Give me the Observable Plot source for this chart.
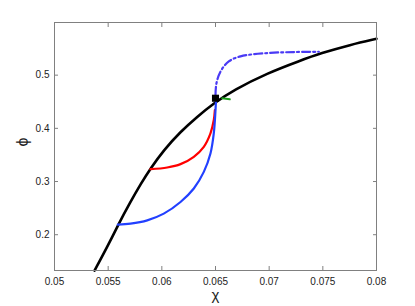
<!DOCTYPE html>
<html>
<head>
<meta charset="utf-8">
<script src="https://cdn.jsdelivr.net/npm/d3@7"></script>
<script src="https://cdn.jsdelivr.net/npm/@observablehq/plot@0.6"></script>
<style>
  html, body { margin: 0; padding: 0; background: #fff; }
  #chart svg { display: block; }
</style>
</head>
<body>
<div id="chart"></div>
<script>
// Binodal (black) curve
const binodalX = [0.05373, 0.05491, 0.05590, 0.05708, 0.05805, 0.05894, 0.06018, 0.06174, 0.06330, 0.06484, 0.06671, 0.06982, 0.07292, 0.07478, 0.07758, 0.08];
const binodalY = [0.1326, 0.1766, 0.2175, 0.2620, 0.2960, 0.3245, 0.3591, 0.3936, 0.4219, 0.4472, 0.4723, 0.5038, 0.5275, 0.5410, 0.5572, 0.5683];
// Red path
const redX = [0.05894, 0.0605, 0.06174, 0.06298, 0.06391, 0.06453, 0.06484, 0.06494];
const redY = [0.3232, 0.3264, 0.3327, 0.3465, 0.3653, 0.3906, 0.4157, 0.4345];
// Blue solid path
const blueX = [0.05590, 0.05708, 0.05864, 0.06018, 0.06174, 0.06298, 0.06391, 0.06453, 0.06484, 0.06500, 0.06506];
const blueY = [0.2189, 0.2208, 0.2270, 0.2396, 0.2615, 0.2868, 0.3181, 0.3528, 0.3906, 0.4340, 0.4591];
// Blue dash-dot path
const dashX = [0.06500, 0.06509, 0.06547, 0.06624, 0.06733, 0.06982, 0.07230, 0.07463];
const dashY = [0.4628, 0.4849, 0.5069, 0.5258, 0.5353, 0.5415, 0.5434, 0.5440];
// Green short segment
const greenX = [0.06562, 0.06633];
const greenY = [0.4566, 0.4547];
// Marker
const markerX = [0.065];
const markerY = [0.4566];

const xTicks = [0.05, 0.055, 0.06, 0.065, 0.07, 0.075, 0.08];
const xTickLabels = ["0.05", "0.055", "0.06", "0.065", "0.07", "0.075", "0.08"];
const yTicks = [0.2, 0.3, 0.4, 0.5];
const yTickLabels = ["0.2", "0.3", "0.4", "0.5"];

const zip = (xs, ys) => xs.map((x, i) => ({x, y: ys[i]}));

const chart = Plot.plot({
  width: 415,
  height: 306,
  marginLeft: 54,
  marginRight: 39,
  marginTop: 22,
  marginBottom: 36,
  style: {fontFamily: "'Liberation Sans', Arial, sans-serif", fontSize: "10px", color: "#222", background: "#fff"},
  x: {domain: [0.05, 0.08]},
  y: {domain: [0.1327, 0.599]},
  marks: [
    Plot.line(zip(binodalX, binodalY), {x: "x", y: "y", stroke: "black", strokeWidth: 2.6, curve: "basis"}),
    Plot.line(zip(redX, redY), {x: "x", y: "y", stroke: "#ff0000", strokeWidth: 2.2, curve: "catmull-rom"}),
    Plot.line(zip(blueX, blueY), {x: "x", y: "y", stroke: "#2240ff", strokeWidth: 2.2, curve: "catmull-rom"}),
    Plot.line(zip(dashX, dashY), {x: "x", y: "y", stroke: "#4a3af5", strokeWidth: 2.2, strokeDasharray: "8,3,2,3", curve: "catmull-rom"}),
    Plot.line(zip(greenX, greenY), {x: "x", y: "y", stroke: "#1aa01a", strokeWidth: 2}),
    Plot.dot(zip(markerX, markerY), {x: "x", y: "y", symbol: "square", r: 4, fill: "black", stroke: "none"}),
    Plot.frame({stroke: "#808080", strokeWidth: 1}),
    Plot.axisX(xTicks, {anchor: "bottom", tickSize: -4, tickPadding: 11, stroke: "#808080", tickFormat: (d, i) => xTickLabels[i], label: null, fill: "#222"}),
    Plot.axisX(xTicks, {anchor: "top", tickSize: -4, stroke: "#808080", tickFormat: () => "", label: null}),
    Plot.axisY(yTicks, {anchor: "left", tickSize: -4, tickPadding: 9, stroke: "#808080", tickFormat: (d, i) => yTickLabels[i], label: null, fill: "#222"}),
    Plot.axisY(yTicks, {anchor: "right", tickSize: -4, stroke: "#808080", tickFormat: () => "", label: null}),
    Plot.text(["χ"], {frameAnchor: "bottom", dy: 29, fontSize: 15, fill: "#222"}),
    Plot.text(["ϕ"], {frameAnchor: "left", dx: -32, rotate: -90, fontSize: 16, fill: "#222"})
  ]
});
document.getElementById("chart").appendChild(chart);
</script>
</body>
</html>
